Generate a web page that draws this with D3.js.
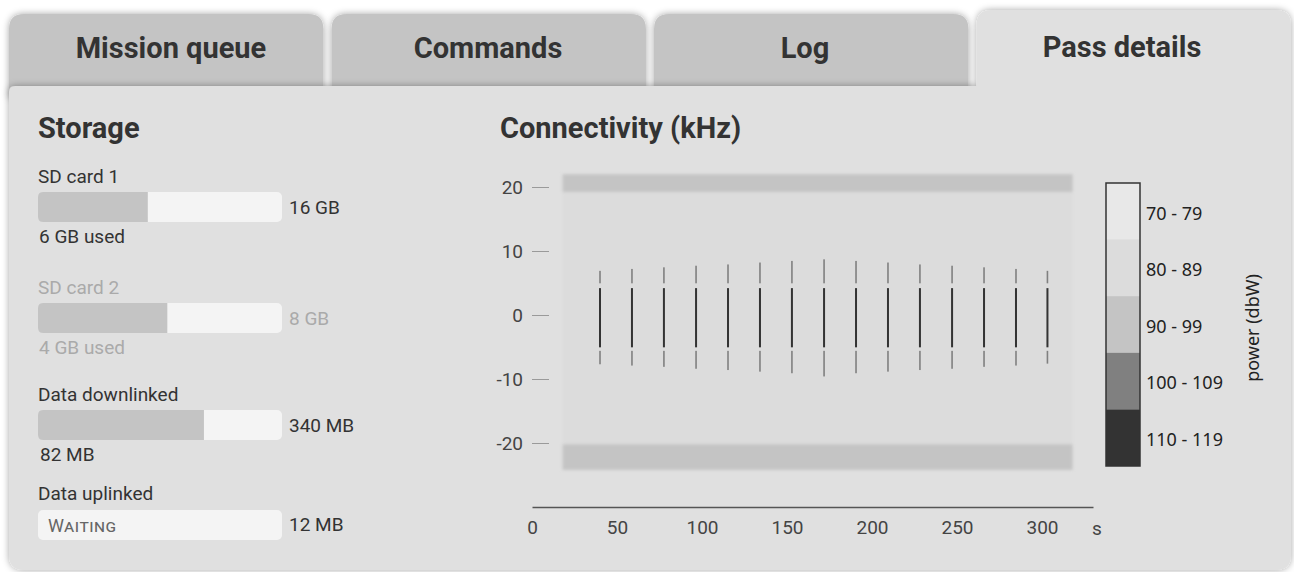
<!DOCTYPE html>
<html><head><meta charset="utf-8">
<script src="https://cdn.jsdelivr.net/npm/d3@7"></script>
<style>html,body{margin:0;padding:0;background:#fff;} svg{display:block;}</style>
</head><body>
<svg id="c" width="1294" height="572"></svg>
<script>
// ---------- data ----------
const tabNames = ["Mission queue", "Commands", "Log", "Pass details"];
const activeTab = "Pass details";

const storageLabels = ["SD card 1", "SD card 2", "Data downlinked", "Data uplinked"];
const storageTotals = ["16 GB", "8 GB", "340 MB", "12 MB"];
const storageUsedText = ["6 GB used", "4 GB used", "82 MB", ""];
const storageFill = [0.45, 0.53, 0.68, 0];          // filled share of each bar, as drawn
const storageDisabled = [false, true, false, false];
const storageStatus = ["", "", "", "Waiting"];

const xTicks = [0, 50, 100, 150, 200, 250, 300];
const yTicks = [20, 10, 0, -10, -20];
const powerLevels = ["70 - 79", "80 - 89", "90 - 99", "100 - 109", "110 - 119"];
const powerColors = ["#e8e8e8", "#dcdcdc", "#c4c4c4", "#808080", "#333333"];

// background heat cells (time s, frequency kHz, power level index)
const bgStart = [18, 18, 18];
const bgEnd = [318, 318, 318];
const bgLow = [19.2, -20.2, -24.2];
const bgHigh = [22, 19.2, -20.2];
const bgLevel = [2, 1, 2];

// pulses
const pulseTimes = [40, 58.8, 77.6, 96.5, 115.3, 134.1, 152.9, 171.8, 190.6, 209.4, 228.2, 247.1, 265.9, 284.7, 303.2];
const pulseUpperTop = [6.9, 7.2, 7.45, 7.7, 7.9, 8.2, 8.45, 8.7, 8.45, 8.2, 7.9, 7.7, 7.45, 7.2, 6.9];
const pulseUpperBottom = [4.95, 4.95, 4.95, 4.95, 4.95, 4.95, 4.95, 4.95, 4.95, 4.95, 4.95, 4.95, 4.95, 4.95, 4.95];
const pulseCoreTop = [4.2, 4.2, 4.2, 4.2, 4.2, 4.2, 4.2, 4.2, 4.2, 4.2, 4.2, 4.2, 4.2, 4.2, 4.2];
const pulseCoreBottom = [-5.05, -5.05, -5.05, -5.05, -5.05, -5.05, -5.05, -5.05, -5.05, -5.05, -5.05, -5.05, -5.05, -5.05, -5.05];
const pulseLowerTop = [-5.6, -5.6, -5.6, -5.6, -5.6, -5.6, -5.6, -5.6, -5.6, -5.6, -5.6, -5.6, -5.6, -5.6, -5.6];
const pulseLowerBottom = [-7.7, -7.9, -8.1, -8.4, -8.6, -8.85, -9.1, -9.6, -9.1, -8.85, -8.6, -8.4, -8.1, -7.9, -7.6];

// ---------- drawing ----------
const svg = d3.select("#c");
const defs = svg.append("defs");
const sh = defs.append("filter").attr("id", "shadow").attr("x", "-5%").attr("y", "-20%").attr("width", "110%").attr("height", "140%");
sh.append("feDropShadow").attr("dx", 0).attr("dy", 0).attr("stdDeviation", 3.5).attr("flood-color", "#000").attr("flood-opacity", 0.35);
const bl = defs.append("filter").attr("id", "blur").attr("x", "-5%").attr("y", "-20%").attr("width", "110%").attr("height", "140%");
bl.append("feGaussianBlur").attr("stdDeviation", 1.8);

const font = "Roboto, sans-serif";
const panel = {x0: 9, x1: 1291, top: 86, bottom: 570};
const tabTop = 14, activeTop = 10, r = 15;

// tab layout
const tabX = d3.scaleBand().domain(tabNames).range([panel.x0, panel.x1]).paddingInner(0.025).paddingOuter(0);
const tabLabelX = d3.scaleBand().domain(tabNames).range([12.5, 1280.5]);
const inactive = tabNames.filter(t => t !== activeTab);
svg.append("g").selectAll("path").data(inactive).join("path")
  .attr("d", t => {
    const a = tabX(t), bb = a + tabX.bandwidth(), y0 = tabTop, y1 = panel.top + 12;
    return `M${a},${y1} L${a},${y0 + r} Q${a},${y0} ${a + r},${y0} L${bb - r},${y0} Q${bb},${y0} ${bb},${y0 + r} L${bb},${y1} Z`;
  })
  .attr("fill", "#c4c4c4").attr("filter", "url(#shadow)");

// panel + active tab
{
  const a = tabX(activeTab), b = panel.x1;
  const p = `M${panel.x0},${panel.top + 6} Q${panel.x0},${panel.top} ${panel.x0 + 6},${panel.top} L${a},${panel.top} L${a},${activeTop + r} Q${a},${activeTop} ${a + r},${activeTop} L${b - r},${activeTop} Q${b},${activeTop} ${b},${activeTop + r} L${b},${panel.bottom - r} Q${b},${panel.bottom} ${b - r},${panel.bottom} L${panel.x0 + r},${panel.bottom} Q${panel.x0},${panel.bottom} ${panel.x0},${panel.bottom - r} Z`;
  svg.append("path").attr("d", p).attr("fill", "#e0e0e0").attr("filter", "url(#shadow)");
}

svg.append("g").selectAll("text").data(tabNames).join("text")
  .attr("x", t => tabLabelX(t) + tabLabelX.bandwidth() / 2)
  .attr("y", t => t === activeTab ? 57 : 58)
  .attr("text-anchor", "middle").attr("font-family", font).attr("font-weight", 700)
  .attr("font-size", 29).attr("fill", "#333").text(t => t);

// ---------- storage ----------
svg.append("text").attr("x", 38).attr("y", 138).attr("font-family", font).attr("font-weight", 700)
  .attr("font-size", 29).attr("fill", "#333").text("Storage");

const rowTop = [183, 294, 401, 500];   // label baselines
const barX = 38, barW = 244, barH = 30;
const fillScale = d3.scaleLinear().domain([0, 1]).range([0, barW]);
const rows = svg.append("g").selectAll("g").data(storageLabels).join("g")
  .attr("transform", (d, i) => `translate(0,${rowTop[i]})`);
const col = i => storageDisabled[i] ? "#aaaaaa" : "#333333";
rows.append("text").attr("x", barX).attr("y", 0).attr("font-family", font).attr("font-size", 19)
  .attr("fill", (d, i) => col(i)).text(d => d);
rows.append("rect").attr("x", barX).attr("y", (d, i) => i === 3 ? 10 : 9).attr("width", barW).attr("height", barH)
  .attr("rx", 5).attr("fill", "#f4f4f4");
rows.append("path").attr("d", (d, i) => {
  const w = fillScale(storageFill[i]); if (w <= 0) return null;
  const y0 = 9, y1 = 9 + barH, rr = 5;
  return `M${barX + w},${y0} L${barX + rr},${y0} Q${barX},${y0} ${barX},${y0 + rr} L${barX},${y1 - rr} Q${barX},${y1} ${barX + rr},${y1} L${barX + w},${y1} Z`;
}).attr("fill", "#c4c4c4");
rows.append("text").attr("x", barX + barW + 7).attr("y", 31).attr("font-family", font).attr("font-size", 19)
  .attr("fill", (d, i) => col(i)).text((d, i) => storageTotals[i]);
rows.append("text").attr("x", (d, i) => i === 2 ? 40 : 39).attr("y", 60).attr("font-family", font).attr("font-size", 19)
  .attr("fill", (d, i) => col(i)).text((d, i) => storageUsedText[i]);
rows.append("text").attr("x", 48).attr("y", 32).attr("font-family", font).attr("font-size", 18)
  .attr("font-variant", "small-caps").attr("letter-spacing", 0.5).attr("fill", "#666").text((d, i) => storageStatus[i]);

// ---------- connectivity ----------
svg.append("text").attr("x", 500).attr("y", 138).attr("font-family", font).attr("font-weight", 700)
  .attr("font-size", 29).attr("fill", "#333").text("Connectivity (kHz)");

const x = d3.scaleLinear().domain([0, 330]).range([532, 1093]);
const y = d3.scaleLinear().domain([-20, 20]).range([443, 187]);

const bgIdx = d3.range(bgStart.length);
svg.append("g").attr("filter", "url(#blur)").selectAll("rect").data(bgIdx).join("rect")
  .attr("x", i => x(bgStart[i])).attr("width", i => x(bgEnd[i]) - x(bgStart[i]))
  .attr("y", i => y(bgHigh[i])).attr("height", i => y(bgLow[i]) - y(bgHigh[i]))
  .attr("fill", i => powerColors[bgLevel[i]]);

const pIdx = d3.range(pulseTimes.length);
const pg = svg.append("g");
const seg = (top, bot, w, color) => pg.append("g").selectAll("rect").data(pIdx).join("rect")
  .attr("x", i => x(pulseTimes[i]) - w / 2).attr("width", w)
  .attr("y", i => y(top[i])).attr("height", i => y(bot[i]) - y(top[i]))
  .attr("fill", color);
seg(pulseUpperTop, pulseUpperBottom, 1.6, powerColors[3]);
seg(pulseCoreTop, pulseCoreBottom, 2, powerColors[4]);
seg(pulseLowerTop, pulseLowerBottom, 1.6, powerColors[3]);

// y axis
const ya = svg.append("g").attr("transform", "translate(549,0)")
  .call(d3.axisLeft(y).tickValues(yTicks).tickSize(17).tickPadding(9).tickFormat(d => String(d)));
ya.select(".domain").remove();
ya.selectAll("line").attr("stroke", "#9a9a9a");
ya.selectAll("text").attr("font-family", font).attr("font-size", 19).attr("fill", "#444");

// x axis
const xa = svg.append("g").attr("transform", "translate(0,507)")
  .call(d3.axisBottom(x).tickValues(xTicks).tickSize(0).tickSizeOuter(0).tickPadding(14).tickFormat(d => String(d)));
xa.select(".domain").attr("stroke", "#555").attr("stroke-width", 1.5);
xa.selectAll("text").attr("font-family", font).attr("font-size", 19).attr("fill", "#444");
svg.append("text").attr("x", x(330) - 1).attr("y", 535).attr("font-family", font).attr("font-size", 19)
  .attr("fill", "#444").text("s");

// legend
const lg = svg.append("g");
const ly = d3.scaleBand().domain(powerLevels).range([183, 466]);
lg.selectAll("rect").data(powerLevels).join("rect")
  .attr("x", 1106).attr("width", 34).attr("y", d => ly(d)).attr("height", ly.bandwidth())
  .attr("fill", (d, i) => powerColors[i]);
lg.append("rect").attr("x", 1106).attr("y", 183).attr("width", 34).attr("height", 283)
  .attr("fill", "none").attr("stroke", "#333").attr("stroke-width", 1.5);
lg.selectAll("text").data(powerLevels).join("text")
  .attr("x", 1146).attr("y", d => ly(d) + ly.bandwidth() / 2 + 2).attr("dy", "0.35em")
  .attr("font-family", "'Noto Sans', sans-serif").attr("font-size", 18).attr("fill", "#222").text(d => d);
svg.append("text").attr("transform", "translate(1253,328) rotate(-90)").attr("text-anchor", "middle")
  .attr("dy", "0.35em").attr("font-family", "'Noto Sans', sans-serif").attr("font-size", 18)
  .attr("fill", "#222").text("power (dbW)");
</script>
</body></html>
